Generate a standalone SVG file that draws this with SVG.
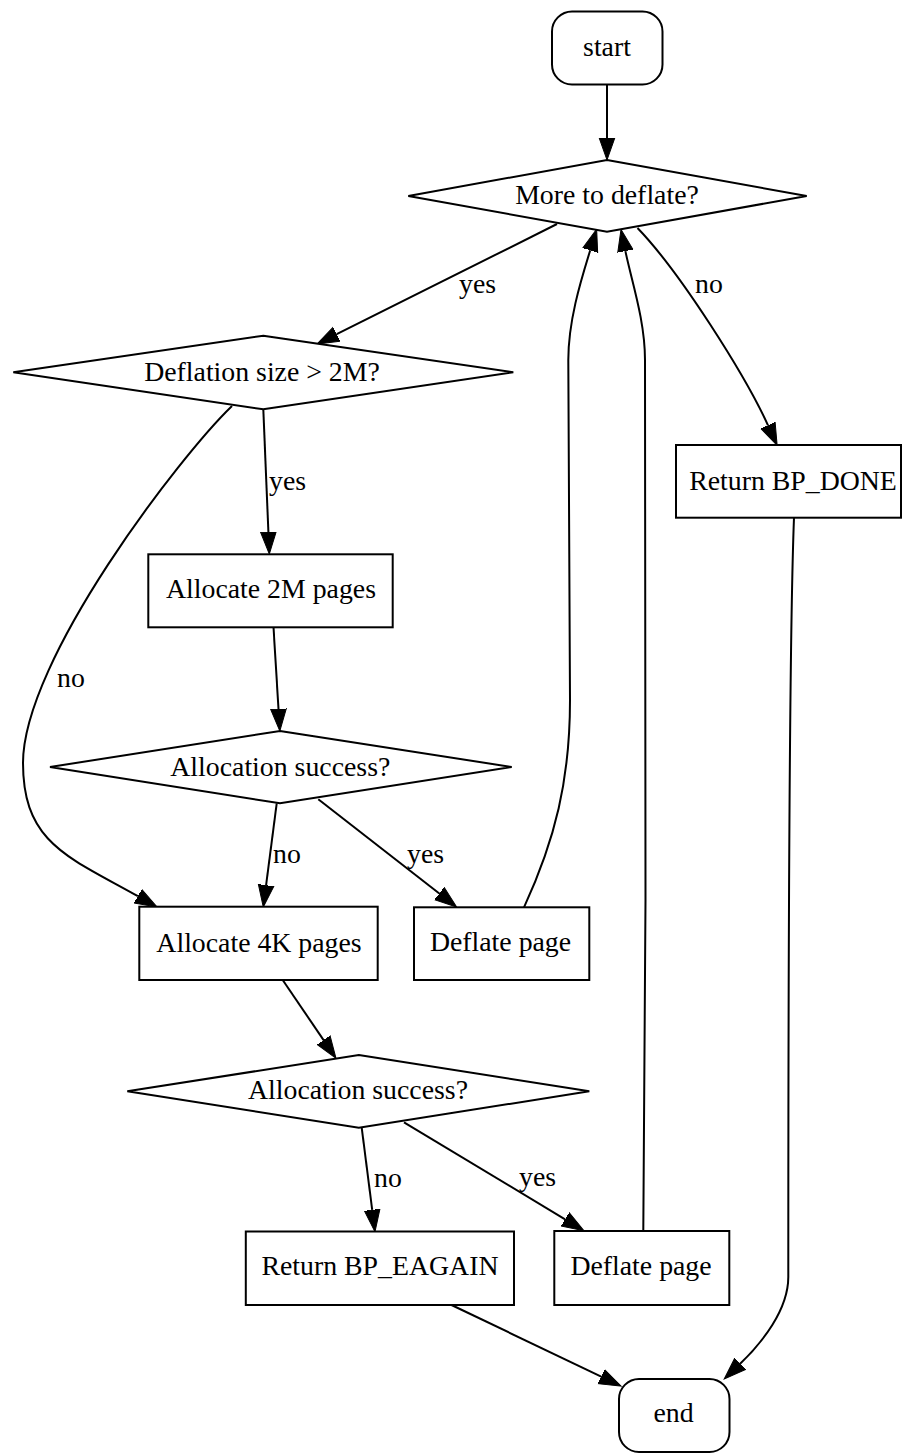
<svg xmlns="http://www.w3.org/2000/svg" width="908" height="1453" viewBox="0 0 908 1453">
<style>
  .node { fill: #ffffff; stroke: #000000; stroke-width: 2; }
  .lbl { font-family: "Liberation Serif", "Times New Roman", serif; font-size: 27.8px; fill: #000000; }
  .c { text-anchor: middle; }
  .edge { fill: none; stroke: #000000; stroke-width: 2; marker-end: url(#arr); }
</style>
<defs>
  <marker id="arr" markerUnits="userSpaceOnUse" markerWidth="24" markerHeight="18" viewBox="0 -9 24 18" refX="0" refY="0" orient="auto">
    <path d="M0,-7.8 L22,0 L0,7.8 Z" fill="#000000" stroke="#000000" stroke-width="1"/>
  </marker>
</defs>
<rect width="908" height="1453" fill="#ffffff"/>

<g id="connectors">
  <path class="edge" d="M607,84.5 L607,138"/>
  <path class="edge" d="M557,224 L336.7,334.2"/>
  <text class="lbl" x="459" y="293">yes</text>
  <path class="edge" d="M637.5,228 C680,272 745,375 768,425.3"/>
  <text class="lbl" x="695" y="293">no</text>
  <path class="edge" d="M263.3,409.3 L268.4,532"/>
  <text class="lbl" x="269" y="490">yes</text>
  <path class="edge" d="M232,406 C180,456 23,660 23,763 C23,843 68.3,857 137.9,896.2"/>
  <text class="lbl" x="57" y="687">no</text>
  <path class="edge" d="M273.5,627.3 L278.5,709"/>
  <path class="edge" d="M276.7,803.3 L266.1,885.2"/>
  <text class="lbl" x="273" y="863">no</text>
  <path class="edge" d="M318.3,799.3 L439.3,893.5"/>
  <text class="lbl" x="407" y="863">yes</text>
  <path class="edge" d="M524,907.3 C555,840 570,780 570,700 L568.3,360 C568.3,320 581.4,279 590.2,250.3"/>
  <path class="edge" d="M282.7,980 L323.6,1040.1"/>
  <path class="edge" d="M361.7,1127.7 L372.2,1209.9"/>
  <text class="lbl" x="374" y="1187">no</text>
  <path class="edge" d="M404,1122.3 L565.1,1219.3"/>
  <text class="lbl" x="519" y="1186">yes</text>
  <path class="edge" d="M643.3,1231 L645.5,900 L645,360 C645,320 631.4,280.5 625.4,251.1"/>
  <path class="edge" d="M794,517.7 C790,620 788.3,900 788.3,1277 C788.3,1310 761.7,1343.1 740.1,1363.8"/>
  <path class="edge" d="M451.5,1305 L601.2,1376.6"/>
</g>

<g id="node-start">
  <rect class="node" x="552" y="11.5" width="110.5" height="73" rx="20" ry="20"/>
  <text class="lbl c" x="607" y="55.5">start</text>
</g>
<g id="node-more">
  <polygon class="node" points="607,160 806.7,196 607,231.7 408.3,196"/>
  <text class="lbl c" x="607" y="204">More to deflate?</text>
</g>
<g id="node-size">
  <polygon class="node" points="263.3,335.7 513.3,372.3 263.3,409.3 13.3,372.3"/>
  <text class="lbl c" x="262" y="380.5">Deflation size &gt; 2M?</text>
</g>
<g id="node-done">
  <rect class="node" x="676" y="445" width="225" height="72.7"/>
  <text class="lbl c" x="793" y="489.5">Return BP_DONE</text>
</g>
<g id="node-alloc2m">
  <rect class="node" x="148.3" y="554.3" width="244.4" height="73"/>
  <text class="lbl c" x="271" y="598.3">Allocate 2M pages</text>
</g>
<g id="node-success1">
  <polygon class="node" points="280,731 511.7,767 280,803.3 50,767"/>
  <text class="lbl c" x="280.3" y="775.5">Allocation success?</text>
</g>
<g id="node-alloc4k">
  <rect class="node" x="139.3" y="906.7" width="238.4" height="73.3"/>
  <text class="lbl c" x="259" y="951.7">Allocate 4K pages</text>
</g>
<g id="node-deflate1">
  <rect class="node" x="414" y="907.3" width="175.3" height="72.7"/>
  <text class="lbl c" x="500.5" y="950.7">Deflate page</text>
</g>
<g id="node-success2">
  <polygon class="node" points="358.8,1055 589.3,1091.3 358.8,1127.7 127.3,1091.3"/>
  <text class="lbl c" x="358" y="1099">Allocation success?</text>
</g>
<g id="node-eagain">
  <rect class="node" x="245.8" y="1231.5" width="268.2" height="73.5"/>
  <text class="lbl c" x="380" y="1275">Return BP_EAGAIN</text>
</g>
<g id="node-deflate2">
  <rect class="node" x="554.3" y="1231" width="175" height="74"/>
  <text class="lbl c" x="641" y="1275">Deflate page</text>
</g>
<g id="node-end">
  <rect class="node" x="619" y="1379" width="110.5" height="73" rx="20" ry="20"/>
  <text class="lbl c" x="673.5" y="1421.7">end</text>
</g>
</svg>
